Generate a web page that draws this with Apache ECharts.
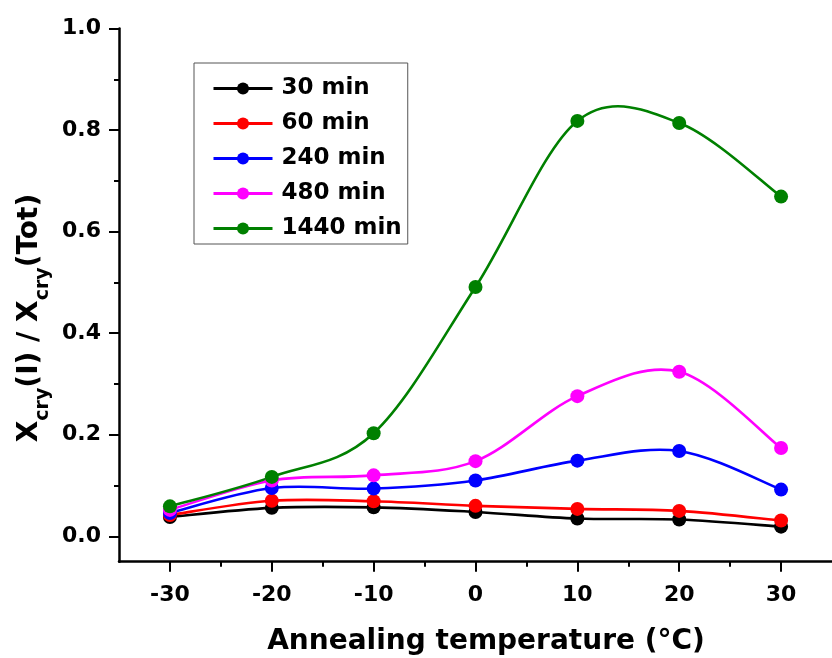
<!DOCTYPE html>
<html>
<head>
<meta charset="utf-8">
<script src="https://cdn.jsdelivr.net/npm/echarts@6/dist/echarts.min.js"></script>
<style>
html,body{margin:0;padding:0;background:#fff;}
#chart{width:832px;height:658px;}
</style>
</head>
<body>
<div id="chart"></div>
<script>
// Data
var temperatures = [-30, -20, -10, 0, 10, 20, 30];
var seriesNames = ['30 min', '60 min', '240 min', '480 min', '1440 min'];
var min30   = [0.038, 0.056, 0.057, 0.048, 0.035, 0.033, 0.019];
var min60   = [0.042, 0.070, 0.069, 0.060, 0.054, 0.050, 0.031];
var min240  = [0.046, 0.095, 0.094, 0.110, 0.149, 0.168, 0.092];
var min480  = [0.052, 0.110, 0.120, 0.148, 0.276, 0.324, 0.174];
var min1440 = [0.059, 0.117, 0.203, 0.491, 0.818, 0.814, 0.669];
var xTicks = [-30, -20, -10, 0, 10, 20, 30];
var xMinorTicks = [-25, -15, -5, 5, 15, 25];
var yTicks = [0, 0.2, 0.4, 0.6, 0.8, 1.0];
var yMinorTicks = [0.1, 0.3, 0.5, 0.7, 0.9];

var colors = ['#000000', '#ff0000', '#0000ff', '#ff00ff', '#008000'];
var allValues = [min30, min60, min240, min480, min1440];
var FONT = '"DejaVu Sans", "Liberation Sans", Arial, sans-serif';

function pairs(vals) {
  return temperatures.map(function (t, i) { return [t, vals[i]]; });
}

// Spline (Catmull-Rom) segment renderer: each data item draws its outgoing segment,
// with all positions obtained through the axis scales (api.coord).
function makeSplineRenderer(vals, color) {
  return function (params, api) {
    var i = params.dataIndex;
    var n = vals.length;
    if (i >= n - 1) return null;
    function P(k) {
      k = Math.max(0, Math.min(n - 1, k));
      return api.coord([temperatures[k], vals[k]]);
    }
    var p0 = P(i - 1), p1 = P(i), p2 = P(i + 1), p3 = P(i + 2);
    return {
      type: 'bezierCurve',
      shape: {
        x1: p1[0], y1: p1[1],
        x2: p2[0], y2: p2[1],
        cpx1: p1[0] + (p2[0] - p0[0]) / 6,
        cpy1: p1[1] + (p2[1] - p0[1]) / 6,
        cpx2: p2[0] - (p3[0] - p1[0]) / 6,
        cpy2: p2[1] - (p3[1] - p1[1]) / 6
      },
      style: {stroke: color, lineWidth: 2.6, fill: null, lineCap: 'round'},
      silent: true
    };
  };
}

var chart = echarts.init(document.getElementById('chart'), null, {renderer: 'canvas'});

var series = [];
seriesNames.forEach(function (name, i) {
  series.push({
    name: name + ' curve',
    type: 'custom',
    xAxisIndex: 0,
    yAxisIndex: 0,
    data: pairs(allValues[i]),
    encode: {x: 0, y: 1},
    renderItem: makeSplineRenderer(allValues[i], colors[i]),
    silent: true
  });
  series.push({
    name: name,
    type: 'line',
    xAxisIndex: 0,
    yAxisIndex: 0,
    smooth: false,
    symbol: 'circle',
    symbolSize: 14,
    data: pairs(allValues[i]),
    lineStyle: {color: colors[i], width: 2.6, opacity: 0},
    itemStyle: {color: colors[i]},
    emphasis: {disabled: true}
  });
});

var option = {
  animation: false,
  backgroundColor: '#ffffff',
  grid: {left: 119, top: 28.5, width: 721, height: 533.2, containLabel: false},
  xAxis: [{
    type: 'value', min: -35, max: 35,
    axisLine: {show: true, onZero: false, lineStyle: {color: '#000', width: 2.5}},
    axisTick: {show: true, inside: false, length: 10, lineStyle: {color: '#000', width: 2}, customValues: xTicks},
    axisLabel: {show: true, margin: 23, customValues: xTicks, color: '#000',
      fontFamily: FONT, fontWeight: 'bold', fontSize: 22,
      formatter: function (v) { return String(v); }},
    splitLine: {show: false}
  }, {
    type: 'value', min: -35, max: 35, position: 'bottom',
    axisLine: {show: false, onZero: false},
    axisTick: {show: true, inside: false, length: 5, lineStyle: {color: '#000', width: 2}, customValues: xMinorTicks},
    axisLabel: {show: false},
    splitLine: {show: false}
  }],
  yAxis: [{
    type: 'value', min: -0.05, max: 1.0,
    axisLine: {show: true, onZero: false, lineStyle: {color: '#000', width: 2.5}},
    axisTick: {show: true, inside: false, length: 10, lineStyle: {color: '#000', width: 2}, customValues: yTicks},
    axisLabel: {show: true, margin: 18, customValues: yTicks, color: '#000',
      fontFamily: FONT, fontWeight: 'bold', fontSize: 22,
      formatter: function (v) { return v.toFixed(1); }},
    splitLine: {show: false}
  }, {
    type: 'value', min: -0.05, max: 1.0, position: 'left',
    axisLine: {show: false, onZero: false},
    axisTick: {show: true, inside: false, length: 5, lineStyle: {color: '#000', width: 2}, customValues: yMinorTicks},
    axisLabel: {show: false},
    splitLine: {show: false}
  }],
  legend: {
    show: true,
    orient: 'vertical',
    left: 194, top: 63,
    padding: [14, 6, 4, 18],
    itemGap: 12,
    itemWidth: 59,
    itemHeight: 15,
    borderColor: '#555',
    borderWidth: 1,
    backgroundColor: '#fff',
    selectedMode: false,
    lineStyle: {width: 3, opacity: 1},
    textStyle: {color: '#000', fontFamily: FONT, fontWeight: 'bold', fontSize: 23, lineHeight: 23, padding: [0, 0, 0, 4]},
    data: seriesNames
  },
  graphic: [{
    type: 'text',
    x: 486, y: 641.7,
    style: {
      text: 'Annealing temperature (°C)',
      fill: '#000',
      font: 'bold 28px ' + FONT,
      align: 'center',
      verticalAlign: 'middle'
    }
  }, {
    type: 'text',
    x: 29.5, y: 318,
    rotation: Math.PI / 2,
    style: {
      text: '{m|X}{s|cry}{m|(I) / X}{s|cry}{m|(Tot)}',
      fill: '#000',
      font: 'bold 28px ' + FONT,
      align: 'center',
      verticalAlign: 'middle',
      rich: {
        m: {fontFamily: FONT, fontWeight: 'bold', fontSize: 28, lineHeight: 28, verticalAlign: 'top', fill: '#000'},
        s: {fontFamily: FONT, fontWeight: 'bold', fontSize: 19, lineHeight: 19, verticalAlign: 'top', padding: [18, 0, 0, 0], fill: '#000'}
      }
    }
  }],
  series: series
};

chart.setOption(option);
</script>
</body>
</html>
